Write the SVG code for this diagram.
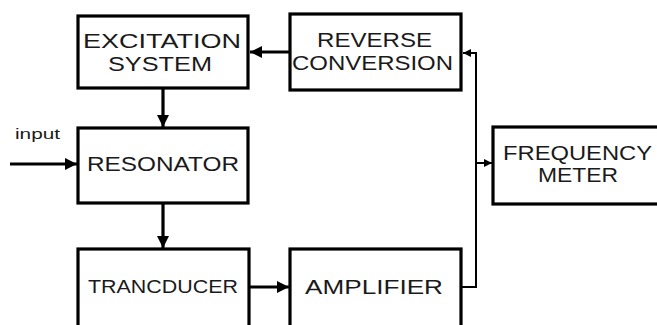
<svg xmlns="http://www.w3.org/2000/svg" width="657" height="325" viewBox="0 0 657 325">
<style>
.box{fill:#fff;stroke:#000;stroke-width:3.2}
.lbl{font-family:"Liberation Sans",Arial,sans-serif;font-size:20px;fill:#1a1a1a;text-anchor:middle}
.in{font-family:"Liberation Sans",Arial,sans-serif;font-size:14px;fill:#1a1a1a}
.thick{stroke:#000;stroke-width:3.2;fill:none}
.thin{stroke:#000;stroke-width:2;fill:none}
</style>
<defs>
<marker id="big" markerUnits="userSpaceOnUse" markerWidth="14" markerHeight="14" refX="12" refY="6" orient="auto">
<path d="M0,0 L12,6 L0,12 Z" fill="#000"/>
</marker>
<marker id="small" markerUnits="userSpaceOnUse" markerWidth="10" markerHeight="10" refX="8" refY="4" orient="auto">
<path d="M0,0 L8,4 L0,8 Z" fill="#000"/>
</marker>
</defs>
<rect width="657" height="325" fill="#fff"/>
<g id="connectors">
<line class="thick" x1="289" y1="52" x2="250" y2="52" marker-end="url(#big)"/>
<line class="thick" x1="163" y1="88" x2="163" y2="127" marker-end="url(#big)"/>
<line class="thick" x1="163" y1="203" x2="163" y2="248" marker-end="url(#big)"/>
<line class="thick" x1="249" y1="287" x2="289" y2="287" marker-end="url(#big)"/>
<line class="thick" x1="10" y1="164" x2="77" y2="164" marker-end="url(#big)"/>
<path class="thin" d="M462,287 H476 V53 H463" marker-end="url(#small)"/>
<line class="thin" x1="476" y1="163" x2="492" y2="163" marker-end="url(#small)"/>
</g>
<g id="excitation">
<rect class="box" x="78" y="16" width="170" height="72"/>
<text class="lbl" x="162" y="48" textLength="158" lengthAdjust="spacingAndGlyphs">EXCITATION</text>
<text class="lbl" x="160" y="71" textLength="104" lengthAdjust="spacingAndGlyphs">SYSTEM</text>
</g>
<g id="reverse">
<rect class="box" x="290" y="14" width="171" height="76"/>
<text class="lbl" x="374.5" y="47" textLength="115" lengthAdjust="spacingAndGlyphs">REVERSE</text>
<text class="lbl" x="372.5" y="70" textLength="161" lengthAdjust="spacingAndGlyphs">CONVERSION</text>
</g>
<g id="resonator">
<rect class="box" x="78" y="128" width="170" height="75"/>
<text class="lbl" x="163" y="171" textLength="152" lengthAdjust="spacingAndGlyphs">RESONATOR</text>
</g>
<g id="input">
<text class="in" x="15" y="139" textLength="45" lengthAdjust="spacingAndGlyphs">input</text>
</g>
<g id="transducer">
<rect class="box" x="78" y="249" width="171" height="92"/>
<text class="lbl" x="163" y="293" textLength="150" lengthAdjust="spacingAndGlyphs" style="font-size:18px">TRANCDUCER</text>
</g>
<g id="amplifier">
<rect class="box" x="290" y="249" width="171" height="92"/>
<text class="lbl" x="374" y="294" textLength="138" lengthAdjust="spacingAndGlyphs">AMPLIFIER</text>
</g>
<g id="frequency">
<rect class="box" x="493" y="127" width="180" height="77"/>
<text class="lbl" x="577.5" y="160" textLength="149" lengthAdjust="spacingAndGlyphs">FREQUENCY</text>
<text class="lbl" x="578" y="182" textLength="80" lengthAdjust="spacingAndGlyphs">METER</text>
</g>
</svg>
